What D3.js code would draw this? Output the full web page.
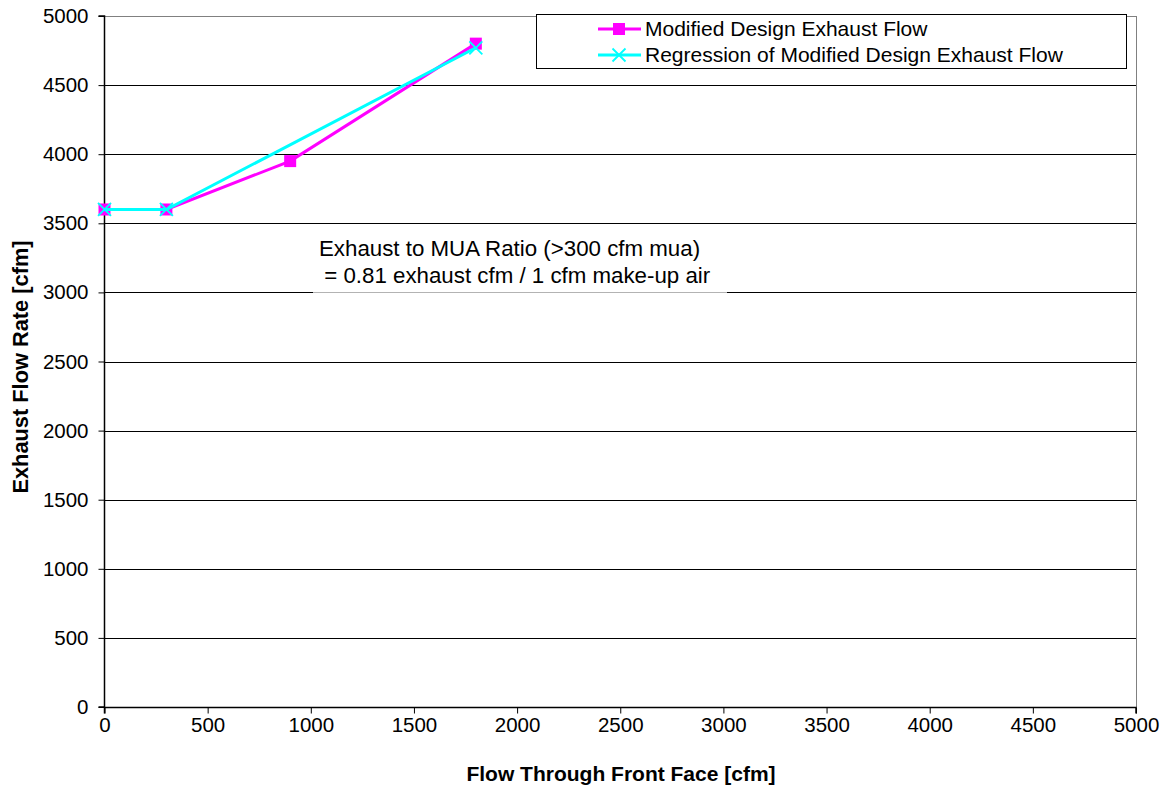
<!DOCTYPE html>
<html><head><meta charset="utf-8">
<script src="https://cdn.jsdelivr.net/npm/d3@7"></script>
<style>body{margin:0;background:#fff}svg{display:block;font-family:"Liberation Sans",Arial,sans-serif}</style>
</head><body><svg id="c" width="1167" height="787"></svg>
<script>
const xTicks = [0,500,1000,1500,2000,2500,3000,3500,4000,4500,5000];
const yTicks = [0,500,1000,1500,2000,2500,3000,3500,4000,4500,5000];
const modX = [0,300,900,1800];
const modY = [3600,3600,3950,4800];
const regX = [0,300,1800];
const regY = [3600,3600,4770];
const seriesNames = ["Modified Design Exhaust Flow","Regression of Modified Design Exhaust Flow"];
const annotation = ["Exhaust to MUA Ratio (>300 cfm mua)"," = 0.81 exhaust cfm / 1 cfm make-up air"];

const svg = d3.select("#c");
const L=104.5,R=1136,T=16,B=707;
const x = d3.scaleLinear().domain([0,5000]).range([L,R]);
const y = d3.scaleLinear().domain([0,5000]).range([B,T]);

// gridlines
svg.append("g").selectAll("line").data(yTicks.filter(d=>d>0)).join("line")
 .attr("x1",L).attr("x2",R).attr("y1",d=>Math.round(y(d))+0.5).attr("y2",d=>Math.round(y(d))+0.5)
 .attr("stroke",d=>d===5000?"#808080":"#000").attr("stroke-width",1);
// right border
svg.append("line").attr("x1",R+0.5).attr("x2",R+0.5).attr("y1",T).attr("y2",B).attr("stroke","#808080");

// annotation box
svg.append("rect").attr("x",313).attr("y",226).attr("width",414).attr("height",67).attr("fill","#fff").attr("fill-opacity",0.7);
svg.append("rect").attr("x",313).attr("y",226).attr("width",414).attr("height",65).attr("fill","#fff");
svg.append("g").selectAll("text").data(annotation).join("text")
 .attr("x",(d,i)=>i===0?319:318).attr("y",(d,i)=>256+i*27)
 .attr("font-size",22.3).attr("fill","#000").attr("xml:space","preserve").style("white-space","pre").text(d=>d);

// axes
const xa = svg.append("g").attr("transform",`translate(0,${B+0.5})`)
 .call(d3.axisBottom(x).tickValues(xTicks).tickSize(6).tickPadding(4).tickFormat(d3.format("d")));
const ya = svg.append("g").attr("transform",`translate(${L},0)`)
 .call(d3.axisLeft(y).tickValues(yTicks).tickSize(6).tickPadding(10).tickFormat(d3.format("d")));
[xa,ya].forEach(a=>{a.select(".domain").attr("stroke","#000").attr("stroke-width",1.5);
 a.selectAll(".tick line").attr("stroke","#000");
 a.selectAll("text").attr("font-size",20.5).attr("fill","#000").attr("font-family","Liberation Sans, Arial, sans-serif");});
xa.select(".domain").attr("d",`M${L},6V0H${R}V6`);
ya.select(".domain").attr("d",`M-6,${B}H0V${T}H-6`);

// series
const mod = modX.map((d,i)=>[d,modY[i]]);
const reg = regX.map((d,i)=>[d,regY[i]]);
const line = d3.line().x(d=>x(d[0])).y(d=>y(d[1]));
svg.append("path").attr("d",line(mod)).attr("fill","none").attr("stroke","#FF00FF").attr("stroke-width",3);
svg.append("g").selectAll("rect").data(mod).join("rect")
 .attr("x",d=>x(d[0])-6).attr("y",d=>y(d[1])-6).attr("width",12).attr("height",12).attr("fill","#FF00FF");
svg.append("path").attr("d",line(reg)).attr("fill","none").attr("stroke","#00FFFF").attr("stroke-width",3);
const cross = (g,cx,cy,s)=>g.append("path").attr("d",`M${cx-s},${cy-s}L${cx+s},${cy+s}M${cx-s},${cy+s}L${cx+s},${cy-s}`)
 .attr("stroke","#00FFFF").attr("stroke-width",1.8).attr("fill","none");
reg.forEach(d=>cross(svg,x(d[0]),y(d[1]),6.5));

// legend
svg.append("rect").attr("x",536.5).attr("y",14.5).attr("width",590).attr("height",54).attr("fill","#fff").attr("stroke","#000");
const lg = svg.append("g");
seriesNames.forEach((n,i)=>{
  const cy = 29+i*26;
  if(i===0){
    lg.append("line").attr("x1",598).attr("x2",641).attr("y1",cy).attr("y2",cy).attr("stroke","#FF00FF").attr("stroke-width",3);
    lg.append("rect").attr("x",613).attr("y",cy-6).attr("width",12).attr("height",12).attr("fill","#FF00FF");
  } else {
    lg.append("line").attr("x1",598).attr("x2",641).attr("y1",cy).attr("y2",cy).attr("stroke","#00FFFF").attr("stroke-width",3);
    cross(lg,619,cy,6.5);
  }
  lg.append("text").attr("x",645).attr("y",cy+7).attr("font-size",21).attr("fill","#000").text(n);
});

// axis titles
svg.append("text").attr("x",621).attr("y",781).attr("text-anchor","middle").attr("font-size",21).attr("font-weight","bold").text("Flow Through Front Face [cfm]");
svg.append("text").attr("transform","translate(28,367) rotate(-90)").attr("text-anchor","middle").attr("font-size",21.8).attr("font-weight","bold").text("Exhaust Flow Rate [cfm]");
</script></body></html>
